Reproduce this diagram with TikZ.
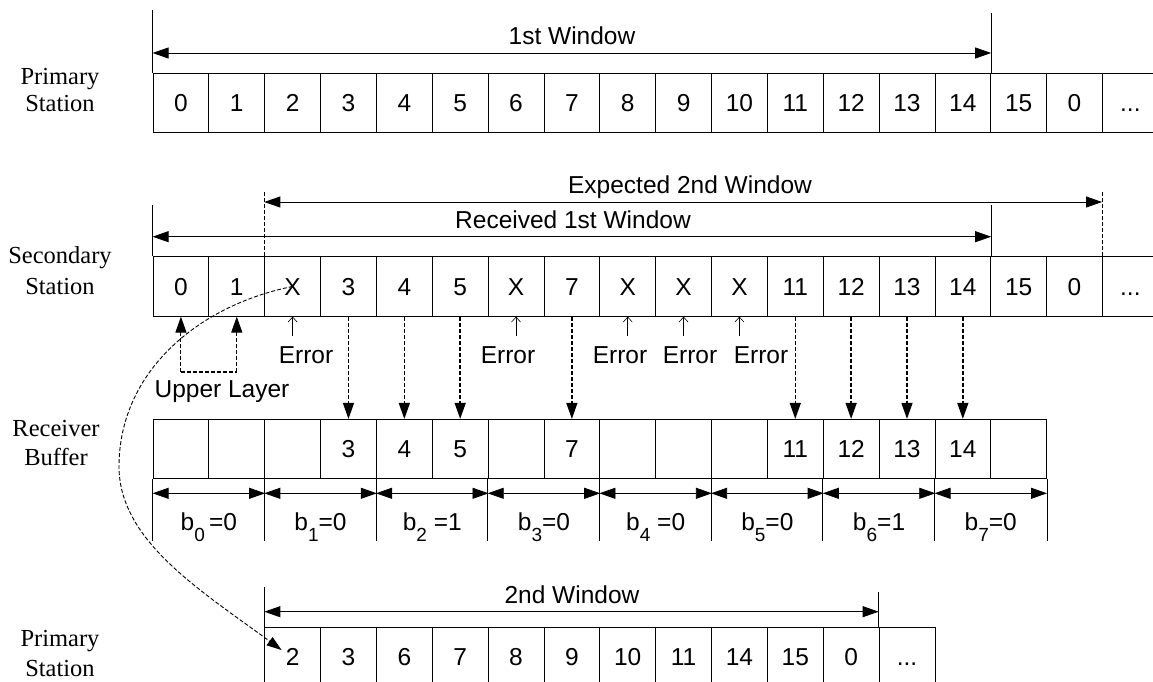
\documentclass[tikz,border=0pt]{standalone}
\usepackage{fontspec}
\setmainfont{Liberation Sans}
\newfontfamily\labelserif{Liberation Serif}
\usetikzlibrary{arrows.meta,calc}
% lowered subscript for the bitmap labels
\newcommand\subx[1]{\raisebox{-11pt}{\fontsize{19}{19}\selectfont #1}}
\newcommand\ellip{...}

\begin{document}
\begin{tikzpicture}[x=1pt,y=-1pt,
  txt/.style={font=\fontsize{24.5}{28}\selectfont, inner sep=0pt, anchor=base},
  lbl/.style={font=\labelserif\fontsize{24.5}{28}\selectfont, inner sep=0pt, anchor=base},
  cell/.style={draw, line width=0.8pt, minimum width=55.85pt, minimum height=59.5pt,
    inner sep=0pt, text height=17.5pt, text depth=0pt, font=\fontsize{24.5}{28}\selectfont},
  rule/.style={line width=0.8pt},
  dashrule/.style={line width=1.0pt, dash pattern=on 4pt off 2pt},
  winarrow/.style={line width=0.8pt,
    {Triangle[length=16pt,width=11pt]}-{Triangle[length=16pt,width=11pt]}},
  dnarrow/.style={line width=1.4pt, dash pattern=on 4pt off 2pt,
    -{Triangle[length=16pt,width=11pt]}},
  ularrow/.style={line width=1.1pt, dash pattern=on 4pt off 2pt,
    -{Triangle[length=16pt,width=11pt]}},
  errarrow/.style={line width=0.6pt, -{Straight Barb[length=5pt,width=9pt]}},
  curvearrow/.style={line width=0.9pt, dash pattern=on 4pt off 2pt,
    -{Triangle[length=15pt,width=10pt]}}
]
\clip (0,0) rectangle (1153,682);
\fill[white] (0,0) rectangle (1153,682);

% ---- primary station, first window ----
\foreach \t [count=\i from 0] in {0,1,2,3,4,5,6,7,8,9,10,11,12,13,14,15,0,\ellip}
  \node[cell] (t\i) at ({153+(\i+0.5)*55.85},102.75) {\t};
\draw[rule] (t0.north west) -- ++(0,-63);
\draw[rule] (t14.north east) -- ++(0,-60);
\draw[winarrow] (t0.north west |- 0,53) -- (t14.north east |- 0,53);
\node[txt] (w1) at (572,45) {1st Window};
\node[lbl] (lp1a) at (60,85) {Primary};
\node[lbl] (lp1b) at (60,111.7) {Station};

% ---- secondary station ----
\foreach \t [count=\i from 0] in {0,1,X,3,4,5,X,7,X,X,X,11,12,13,14,15,0,\ellip}
  \node[cell] (s\i) at ({153+(\i+0.5)*55.85},286.45) {\t};
\draw[rule] (s0.north west) -- ++(0,-51.7);
\draw[rule] (s14.north east) -- ++(0,-51.7);
\draw[dashrule] (s2.north west) -- ++(0,-65.7);
\draw[dashrule] (s17.north west) -- ++(0,-65.7);
\draw[winarrow] (s0.north west |- 0,236.7) -- (s14.north east |- 0,236.7);
\draw[winarrow] (s2.north west |- 0,202) -- (s17.north west |- 0,202);
\node[txt] (wr) at (573,228) {Received 1st Window};
\node[txt] (we) at (690,193) {Expected 2nd Window};
\node[lbl] (lsa) at (60,263) {Secondary};
\node[lbl] (lsb) at (60,294) {Station};

% errors
\foreach \i in {2,6,8,9,10}
  \draw[errarrow] ($(s\i.south)+(0,19)$) -- (s\i.south);
\node[txt] (e2) at (306,363) {Error};
\node[txt] (e6) at (508,363) {Error};
\node[txt] (e8) at (620,363) {Error};
\node[txt] (e9) at (690,363) {Error};
\node[txt] (e10) at (761,363) {Error};

% upper layer delivery
\coordinate (ul0) at (s0.south |- 0,372);
\coordinate (ul1) at (s1.south |- 0,372);
\draw[ularrow] (ul0) -- (s0.south);
\draw[ularrow] (ul1) -- (s1.south);
\draw[dashrule, line width=1.1pt] (ul0) -- (ul1);
\node[txt] (ul) at (222,397) {Upper Layer};

% ---- receiver buffer ----
\foreach \t [count=\i from 0] in {{},{},{},3,4,5,{},7,{},{},{},11,12,13,14,{}}
  \node[cell] (r\i) at ({153+(\i+0.5)*55.85},449.05) {\t};
\node[lbl] (lra) at (56,436) {Receiver};
\node[lbl] (lrb) at (56,465) {Buffer};

\foreach \i in {3,4,5,7,11,12,13,14}
  \draw[dnarrow] (s\i.south) -- (r\i.north);

% bitmap groups
\foreach \k in {0,...,7}{
  \pgfmathtruncatemacro\ka{2*\k}
  \pgfmathtruncatemacro\kb{2*\k+1}
  \draw[rule] (r\ka.south west) -- ++(0,62);
  \draw[winarrow] (r\ka.south west |- 0,493.3) -- (r\kb.south east |- 0,493.3);
}
\draw[rule] (r15.south east) -- ++(0,62);
\foreach \t [count=\k from 0] in {b\subx{0}\,=0, b\subx{1}=0, b\subx{2} =1, b\subx{3}=0,
    b\subx{4} =0, b\subx{5}=0, b\subx{6}=1, b\subx{7}=0}
  \node[txt] (bl\k) at ({153+(2*\k+1)*55.85},530) {\t};

% ---- primary station, second window ----
\foreach \t [count=\i from 0] in {2,3,6,7,8,9,10,11,14,15,0,\ellip}
  \node[cell] (p\i) at ({264.7+(\i+0.5)*55.85},657.05) {\t};
\draw[rule] (p0.north west) -- ++(0,-40.3);
\draw[rule] (p11.north west) -- ++(0,-35.3);
\draw[winarrow] (p0.north west |- 0,611.7) -- (p11.north west |- 0,611.7);
\node[txt] (w2) at (572,603) {2nd Window};
\node[lbl] (lp2a) at (60,646) {Primary};
\node[lbl] (lp2b) at (60,676) {Station};

% retransmission of the first lost frame
\draw[curvearrow] (s2.center) .. controls (200,305) and (120,370) .. (119,465)
  .. controls (118,540) and (200,590) .. ($(p0.center)+(-11,-7)$);
\end{tikzpicture}
\end{document}
